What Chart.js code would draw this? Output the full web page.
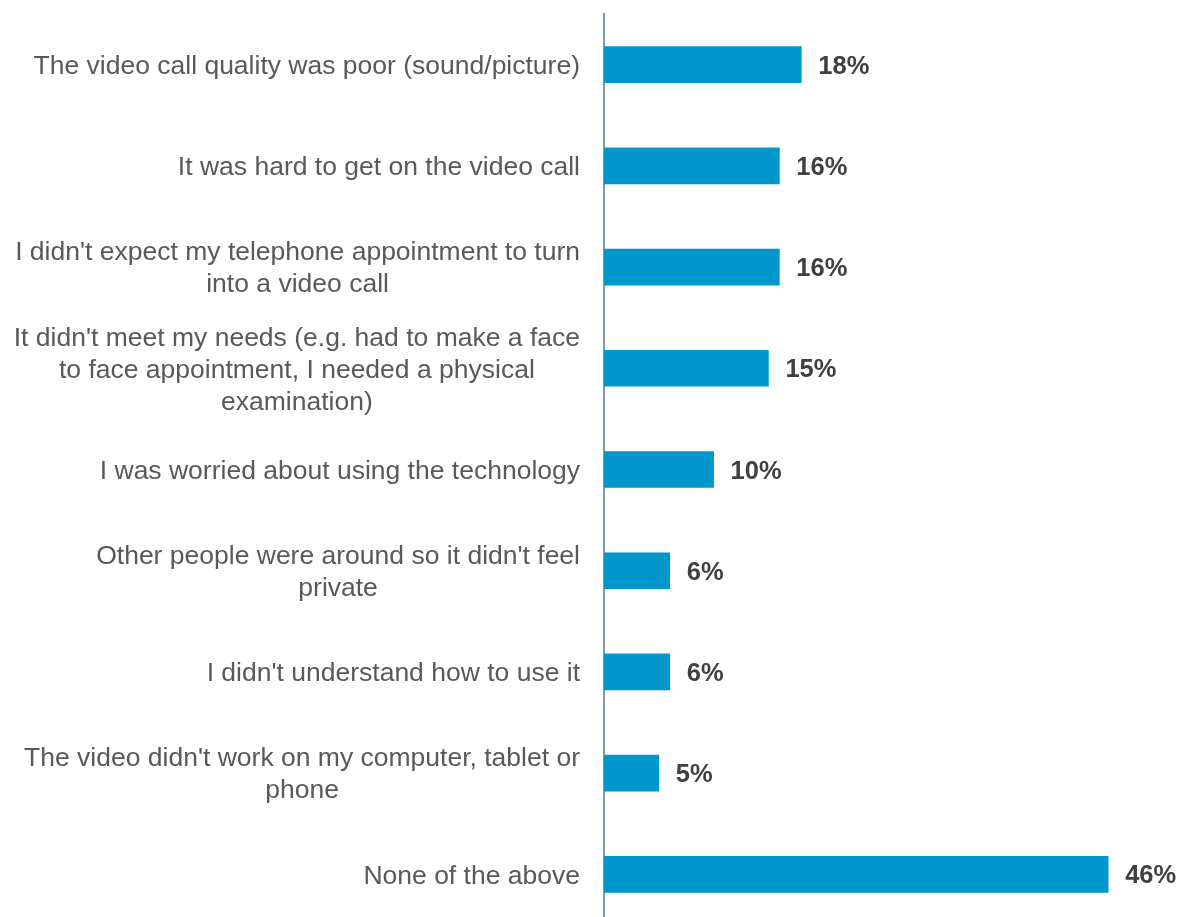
<!DOCTYPE html>
<html>
<head>
<meta charset="utf-8">
<script src="https://cdn.jsdelivr.net/npm/chart.js@4"></script>
<style>
  html, body { margin: 0; padding: 0; background: #fff; overflow: hidden; }
  #wrap { width: 1179px; height: 926px; }
</style>
</head>
<body>
<div id="wrap"><canvas id="reasonsChart" width="1179" height="926"></canvas></div>
<script>
// Reasons for the video call not going well (% of respondents)
const reasons = [
  ["The video call quality was poor (sound/picture)"],
  ["It was hard to get on the video call"],
  ["I didn't expect my telephone appointment to turn", "into a video call"],
  ["It didn't meet my needs (e.g. had to make a face", "to face appointment, I needed a physical", "examination)"],
  ["I was worried about using the technology"],
  ["Other people were around so it didn't feel", "private"],
  ["I didn't understand how to use it"],
  ["The video didn't work on my computer, tablet or", "phone"],
  ["None of the above"]
];
const percentages = [18, 16, 16, 15, 10, 6, 6, 5, 46];
const valueLabels = ["18%", "16%", "16%", "15%", "10%", "6%", "6%", "5%", "46%"];

const LABEL_FONT = "26.5px Arial, Liberation Sans, sans-serif";
const VALUE_FONT = "bold 25.5px Arial, Liberation Sans, sans-serif";

// category labels: each block right-aligned, lines centred within the block
const categoryLabels = {
  id: "categoryLabels",
  afterDraw(chart) {
    const ctx = chart.ctx;
    const yScale = chart.scales.y;
    const rightEdge = chart.chartArea.left - 24;
    const lineHeight = 32;
    ctx.save();
    ctx.font = LABEL_FONT;
    ctx.fillStyle = "#595959";
    ctx.textAlign = "center";
    ctx.textBaseline = "middle";
    reasons.forEach((lines, i) => {
      const blockWidth = Math.max(...lines.map(l => ctx.measureText(l).width));
      const cx = rightEdge - blockWidth / 2;
      const cy = yScale.getPixelForValue(i) + 2;
      const startY = cy - (lines.length - 1) * lineHeight / 2;
      lines.forEach((line, j) => ctx.fillText(line, cx, startY + j * lineHeight));
    });
    ctx.restore();
  }
};

// value labels at the end of each bar
const barValues = {
  id: "barValues",
  afterDatasetsDraw(chart) {
    const ctx = chart.ctx;
    const meta = chart.getDatasetMeta(0);
    ctx.save();
    ctx.font = VALUE_FONT;
    ctx.fillStyle = "#404040";
    ctx.textAlign = "left";
    ctx.textBaseline = "middle";
    meta.data.forEach((bar, i) => {
      ctx.fillText(valueLabels[i], bar.x + 17, bar.y + 2);
    });
    ctx.restore();
  }
};

new Chart(document.getElementById("reasonsChart"), {
  type: "bar",
  data: {
    labels: reasons,
    datasets: [{
      data: percentages,
      backgroundColor: "#0098CC",
      borderWidth: 0,
      barThickness: 36
    }]
  },
  options: {
    indexAxis: "y",
    responsive: false,
    animation: false,
    layout: { padding: { top: 14, right: 27, bottom: 1, left: 0 } },
    plugins: {
      legend: { display: false },
      tooltip: { enabled: false }
    },
    scales: {
      x: {
        display: false,
        min: 0,
        max: 50
      },
      y: {
        grid: { display: false, drawTicks: false },
        border: { display: true, color: "#8497B0", width: 2 },
        ticks: { display: false },
        afterFit(scale) { scale.width = 604; }
      }
    }
  },
  plugins: [categoryLabels, barValues]
});
</script>
</body>
</html>
